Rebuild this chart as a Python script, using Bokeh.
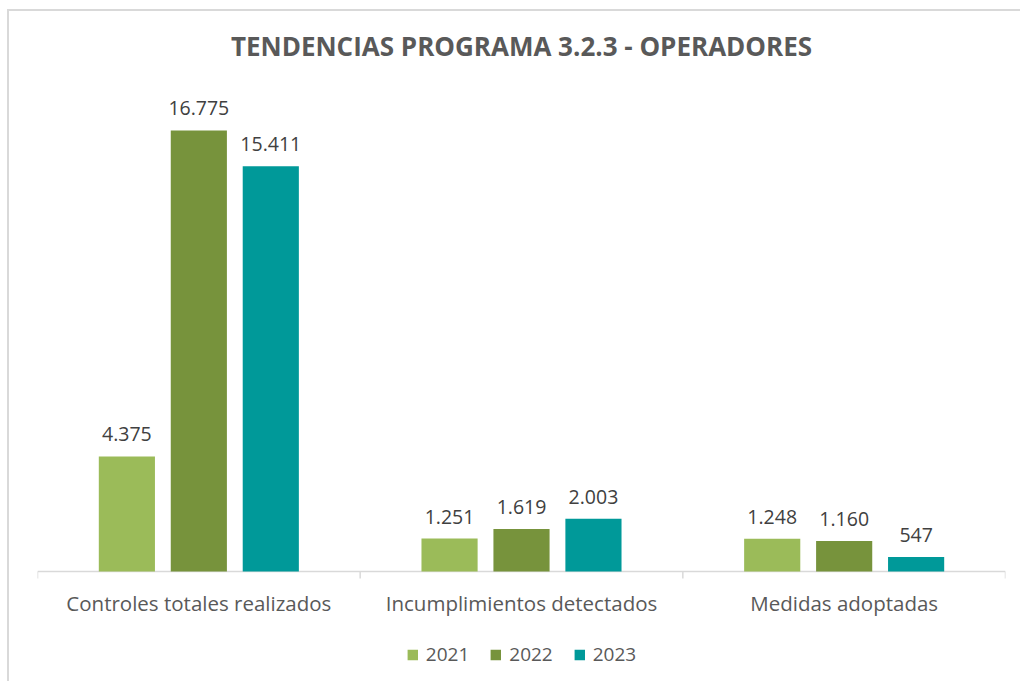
import math
from bokeh.plotting import figure
from bokeh.models import ColumnDataSource, Range1d, Legend, LegendItem
from bokeh.core.properties import value
from bokeh.embed import file_html
from bokeh.resources import INLINE

categories = ["Controles totales realizados", "Incumplimientos detectados", "Medidas adoptadas"]
years = ["2021", "2022", "2023"]
v2021 = [4375, 1251, 1248]
v2022 = [16775, 1619, 1160]
v2023 = [15411, 2003, 547]
colors = ["#9BBB59", "#77933C", "#009999"]

FONT = "Open Sans"
AXIS_GRAY = "#d9d9d9"

p = figure(width=1013, height=672, output_backend="svg", toolbar_location=None,
           x_range=Range1d(0, 3), y_range=Range1d(-4260, 19133),
           x_axis_location=None, y_axis_location=None,
           min_border_left=28, min_border_right=17, min_border_top=57, min_border_bottom=0)
p.styles = {"margin-left": "7px", "margin-top": "9px",
            "border-left": "2px solid #d9d9d9", "border-top": "2px solid #d9d9d9"}
p.outline_line_color = None
p.grid.visible = False

p.title.text = "TENDENCIAS PROGRAMA 3.2.3 - OPERADORES"
p.title.align = "center"
p.title.text_font = FONT
p.title.text_font_style = "bold"
p.title.text_font_size = "26px"
p.title.text_color = "#595959"

n = len(categories)
# category axis: baseline, separators between categories, labels
p.segment(x0=[0], y0=[0], x1=[n], y1=[0], line_color=AXIS_GRAY, line_width=1.5)
p.ray(x=list(range(n + 1)), y=[0] * (n + 1), length=7, length_units="screen",
      angle=-math.pi / 2, line_color=AXIS_GRAY, line_width=1.5)
cat_src = ColumnDataSource(dict(x=[k + 0.5 for k in range(n)], y=[0] * n, label=categories))
p.text(x="x", y="y", text="label", source=cat_src, text_align="center", text_baseline="middle",
       y_offset=31, text_font=value(FONT), text_font_size="20.5px", text_color="#595959")

offsets = [-0.223, 0.0, 0.223]
bar_w = 0.174
items = []
for i, (yr, vals, col) in enumerate(zip(years, [v2021, v2022, v2023], colors)):
    xs = [k + 0.5 + offsets[i] for k in range(n)]
    labels = [f"{v:,}".replace(",", ".") for v in vals]
    src = ColumnDataSource(dict(x=xs, top=vals, label=labels))
    r = p.vbar(x="x", top="top", bottom=0, width=bar_w, source=src, fill_color=col, line_color=None)
    p.text(x="x", y="top", text="label", source=src, text_align="center", text_baseline="bottom",
           y_offset=-15, text_font=value(FONT), text_font_size="19.5px", text_color="#404040")
    items.append(LegendItem(label=yr, renderers=[r]))

legend = Legend(items=items, orientation="horizontal", location="bottom_center",
                label_text_font=FONT, label_text_font_size="19px", label_text_color="#595959",
                glyph_width=13, glyph_height=13, label_standoff=7, spacing=20,
                border_line_color=None, background_fill_alpha=0, margin=16, padding=4)
p.add_layout(legend)

open("out.html", "w").write(file_html(p, INLINE))
